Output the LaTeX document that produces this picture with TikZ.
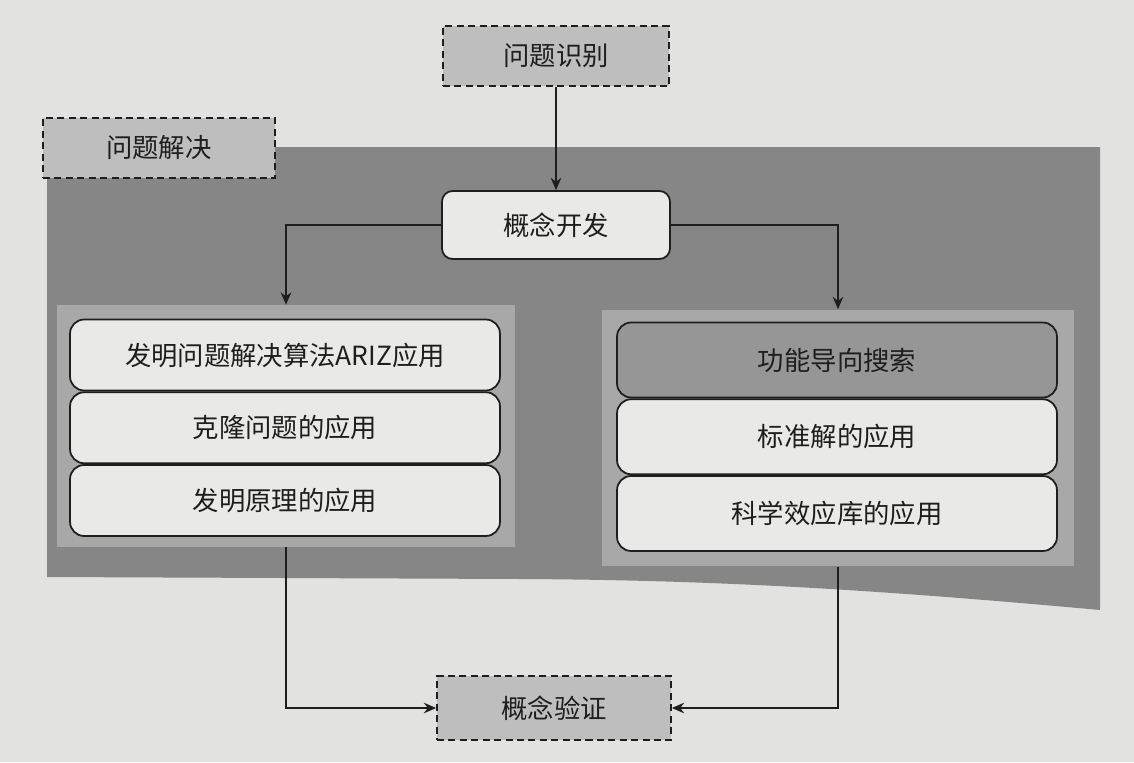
\documentclass[tikz,border=0pt]{standalone}
\usepackage{fontspec}
\setmainfont{Noto Sans CJK SC}
\usetikzlibrary{arrows.meta,positioning}
\definecolor{PageGray}{RGB}{226,226,224}
\definecolor{FrameGray}{RGB}{134,134,134}
\definecolor{PanelGray}{RGB}{168,168,168}
\definecolor{StageGray}{RGB}{190,190,190}
\definecolor{BoxWhite}{RGB}{233,233,231}
\definecolor{HiGray}{RGB}{150,150,150}
\definecolor{InkGray}{RGB}{30,30,30}
\tikzset{
  stage/.style={draw=InkGray,fill=StageGray,line width=1pt,
    dash pattern=on 4pt off 2.5pt,minimum width=4.52cm,minimum height=1.2cm,
    align=center},
  concept/.style={draw=InkGray,fill=BoxWhite,rounded corners=6pt,line width=1pt,
    minimum width=4.56cm,minimum height=1.36cm,align=center},
  panel/.style={fill=PanelGray,inner sep=0pt},
  tool/.style={draw=InkGray,fill=BoxWhite,rounded corners=8pt,line width=1pt,
    minimum width=8.6cm,minimum height=1.42cm,align=center},
  arrow/.style={-{Stealth[length=7pt,width=6pt]},line width=1pt,InkGray}
}

\begin{document}
\begin{tikzpicture}[x=0.02cm,y=-0.02cm,node distance=0pt,
    font=\fontsize{15}{17}\selectfont,text=InkGray]
  \fill[PageGray] (0,0) rectangle (1134,762);
  \useasboundingbox (0,0) rectangle (1134,762);
  % solving area
  \fill[FrameGray] (47,147) -- (1100,147) -- (1100,610)
    .. controls (880,590) and (720,580) .. (520,579) -- (47,577) -- cycle;
  \node[panel,minimum width=9.16cm,minimum height=4.84cm] (lpanel) at (286,426) {};
  \node[panel,minimum width=9.46cm,minimum height=5.14cm] (rpanel) at (838,438) {};
  % stages
  \node[stage] (ident) at (556,56) {问题识别};
  \node[stage,minimum width=4.64cm] (solve) at (159,148) {问题解决};
  \node[concept] (dev) at (556,225) {概念开发};
  \node[stage,minimum width=4.68cm,minimum height=1.28cm] (verify) at (554,708) {概念验证};
  % left tools
  \node[tool] (ariz) at (285,355) {发明问题解决算法ARIZ应用};
  \node[tool,below=of ariz] (clone) {克隆问题的应用};
  \node[tool,below=of clone] (principle) {发明原理的应用};
  % right tools
  \node[tool,fill=HiGray,minimum width=8.8cm,minimum height=1.5cm] (search) at (837,360) {功能导向搜索};
  \node[tool,minimum width=8.8cm,minimum height=1.5cm,below=of search] (standard) {标准解的应用};
  \node[tool,minimum width=8.8cm,minimum height=1.5cm,below=of standard] (effect) {科学效应库的应用};
  % arrows
  \draw[arrow] (ident) -- (dev);
  \draw[arrow] (dev.west) -| (lpanel.north);
  \draw[arrow] (dev.east) -| (rpanel.north);
  \draw[arrow] (lpanel.south) |- (verify.west);
  \draw[arrow] (rpanel.south) |- (verify.east);
\end{tikzpicture}
\end{document}
